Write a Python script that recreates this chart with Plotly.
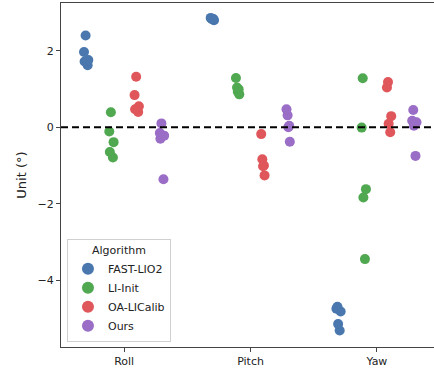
import plotly.graph_objects as go

categories = ["Roll", "Pitch", "Yaw"]
algorithms = ["FAST-LIO2", "LI-Init", "OA-LICalib", "Ours"]
colors = ["#4a77ad", "#50a850", "#e0575b", "#9a6dc6"]

fast_lio2 = {
    "Roll": [2.40, 1.97, 1.76, 1.72, 1.62],
    "Pitch": [2.86, 2.84, 2.82, 2.80, 2.83],
    "Yaw": [-4.70, -4.75, -4.82, -5.15, -5.32],
}
li_init = {
    "Roll": [0.39, -0.11, -0.39, -0.65, -0.79],
    "Pitch": [1.29, 1.04, 0.99, 0.93, 0.86],
    "Yaw": [1.28, -0.01, -1.62, -1.84, -3.45],
}
oa_licalib = {
    "Roll": [1.32, 0.84, 0.55, 0.47, 0.40],
    "Pitch": [-0.18, -0.84, -1.00, -1.02, -1.26],
    "Yaw": [1.18, 1.04, 0.29, 0.09, -0.13],
}
ours = {
    "Roll": [0.10, -0.15, -0.22, -0.30, -1.36],
    "Pitch": [0.47, 0.31, 0.04, 0.00, -0.38],
    "Yaw": [0.45, 0.17, 0.13, 0.04, -0.75],
}
series = [fast_lio2, li_init, oa_licalib, ours]

y_ticks = [-4, -2, 0, 2]

fig = go.Figure()
for name, data, col in zip(algorithms, series, colors):
    xs, ys = [], []
    for c in categories:
        xs += [c] * len(data[c])
        ys += data[c]
    fig.add_trace(go.Box(
        x=xs, y=ys, name=name, boxpoints="all", jitter=0.3, pointpos=0,
        fillcolor="rgba(255,255,255,0)", line=dict(color="rgba(255,255,255,0)", width=0),
        marker=dict(color=col, size=10, opacity=1), hoveron="points",
        showlegend=False, offsetgroup=name,
    ))
    fig.add_trace(go.Scatter(
        x=[None], y=[None], mode="markers", name=name,
        marker=dict(color=col, size=10),
    ))

fig.add_shape(type="line", xref="paper", x0=0, x1=1, yref="y", y0=0, y1=0,
              line=dict(color="black", width=2, dash="7px,4px"), layer="above")

fig.update_layout(
    width=434, height=368,
    margin=dict(l=61, r=0, t=3, b=21),
    paper_bgcolor="white", plot_bgcolor="white",
    boxmode="group", boxgap=0.2, boxgroupgap=0.3,
    font=dict(family="DejaVu Sans", size=11, color="#222"),
    legend=dict(
        title=dict(text="Algorithm", side="top center", font=dict(size=11)),
        x=0.016, y=0.015, xanchor="left", yanchor="bottom",
        bgcolor="white", bordercolor="#d0d0d0", borderwidth=1,
        font=dict(size=11), itemsizing="constant",
    ),
    xaxis=dict(
        type="category", categoryorder="array", categoryarray=categories,
        range=[-0.5, 2.452], showline=True, linecolor="#444", linewidth=1,
        mirror=True, ticks="outside", ticklen=4, tickcolor="#444",
        showgrid=False, zeroline=False, automargin=False,
    ),
    yaxis=dict(
        range=[-5.75, 3.25], tickvals=y_ticks, showline=True, linecolor="#444",
        linewidth=1, ticks="outside", ticklen=4, tickcolor="#444",
        showgrid=False, zeroline=False, automargin=False,
        title=dict(text="Unit (°)", standoff=8),
    ),
)

fig.write_html(
    "out.html",
    config={"displayModeBar": False},
    post_script="document.body.style.margin='0';document.body.style.overflow='hidden';",
)
